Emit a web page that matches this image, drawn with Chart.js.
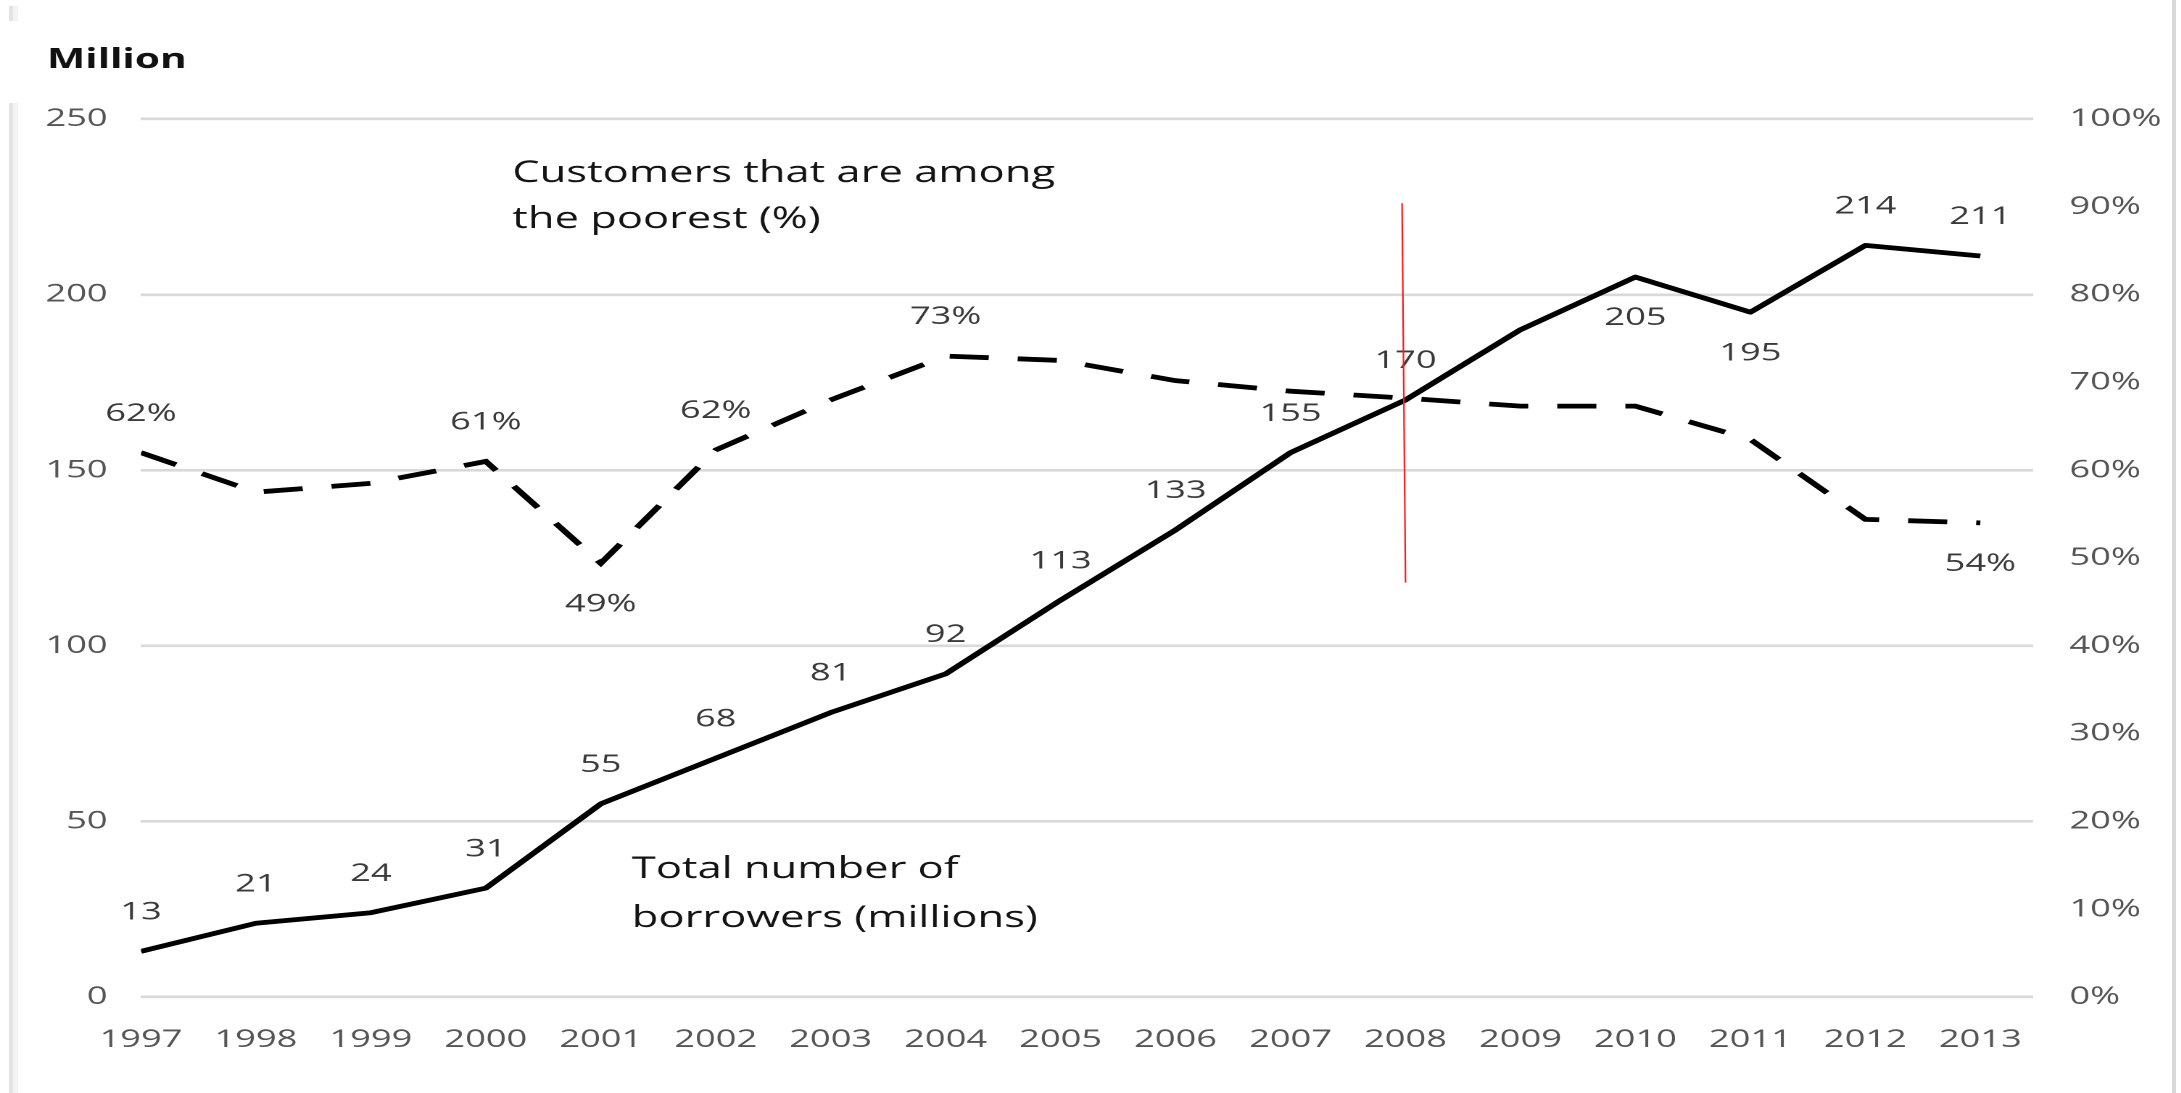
<!DOCTYPE html>
<html>
<head>
<meta charset="utf-8">
<script src="https://cdn.jsdelivr.net/npm/chart.js@4.4.1/dist/chart.umd.min.js"></script>
<style>
  html, body { margin: 0; padding: 0; background: #fff; overflow: hidden; }
  /* the reference is stretched sideways, so the chart is drawn narrow and widened */
  #wrap { position: absolute; left: 0; top: 0; width: 1504px; height: 1093px; transform: scaleX(1.4502); transform-origin: 0 0; }
  .frame { position: absolute; }
</style>
</head>
<body>
<div class="frame" style="left:9px;top:6px;width:4px;height:15px;background:#e3e3e3"></div>
<div class="frame" style="left:13px;top:6px;width:5px;height:15px;background:#f3f3f3"></div>
<div class="frame" style="left:9px;top:103px;width:4px;height:990px;background:#e3e3e3"></div>
<div class="frame" style="left:13px;top:103px;width:5px;height:990px;background:#f3f3f3"></div>
<div class="frame" style="left:2172px;top:0;width:4px;height:1093px;background:#d9d9d9"></div>
<div id="wrap"><canvas id="chart"></canvas></div>
<script>
// valores
const years = [1997, 1998, 1999, 2000, 2001, 2002, 2003, 2004, 2005, 2006, 2007, 2008, 2009, 2010, 2011, 2012, 2013];
const borrowers = [13, 21, 24, 31, 55, 68, 81, 92, 113, 133, 155, 170, 190, 205, 195, 214, 211];
const poorestPct = [62, 57.5, 58.5, 61, 49.4, 62.3, 68, 73, 72.5, 70.2, 69, 68.2, 67.3, 67.3, 63.5, 54.4, 54];
// onde aparece o rotulo de cada ponto (null = sem rotulo)
const borrowerLabelPos = ['above', 'above', 'above', 'above', 'above', 'above', 'above', 'above', 'above', 'above', 'above', 'above', null, 'below', 'below', 'above', 'above'];
const pctLabelPos = ['above', null, null, 'above', 'below', 'above', null, 'above', null, null, null, null, null, null, null, null, 'below'];
const leftTicks = [0, 50, 100, 150, 200, 250];
const rightTicks = [0, 10, 20, 30, 40, 50, 60, 70, 80, 90, 100];
const axisTitle = 'Million';
const seriesNotes = [
  { lines: ['Customers that are among', 'the poorest (%)'], year: 2000.23, values: [232.1, 219.0] },
  { lines: ['Total number of', 'borrowers (millions)'], year: 2001.27, values: [33.9, 19.9] },
];
const redMark = { yearTop: 2007.97, yearBottom: 2008, top: 226, bottom: 118 };

const FONT = '"Open Sans", "DejaVu Sans", sans-serif';

const annotations = {
  id: 'annotations',
  afterDatasetsDraw(chart) {
    const { ctx } = chart;
    const x = chart.scales.x;
    const y = chart.scales.y;
    ctx.save();

    // rotulos dos pontos
    ctx.font = '25px ' + FONT;
    ctx.fillStyle = '#3a3a3a';
    ctx.textAlign = 'center';
    ctx.textBaseline = 'middle';
    chart.data.datasets.forEach((ds, i) => {
      const meta = chart.getDatasetMeta(i);
      ds.labelPos.forEach((pos, j) => {
        if (!pos) return;
        const pt = meta.data[j];
        const dy = pos === 'above' ? -39 : 41;
        ctx.fillText(ds.fmt(ds.data[j].y), pt.x, pt.y + dy);
      });
    });

    // nomes das series
    ctx.font = '30px ' + FONT;
    ctx.fillStyle = '#141414';
    ctx.textAlign = 'left';
    ctx.textBaseline = 'alphabetic';
    seriesNotes.forEach((n) => {
      n.lines.forEach((line, k) => {
        ctx.fillText(line, x.getPixelForValue(n.year), y.getPixelForValue(n.values[k]));
      });
    });

    // traco vermelho em 2008
    ctx.strokeStyle = '#ff1a1a';
    ctx.lineWidth = 1.1;
    ctx.beginPath();
    ctx.moveTo(x.getPixelForValue(redMark.yearTop), y.getPixelForValue(redMark.top));
    ctx.lineTo(x.getPixelForValue(redMark.yearBottom), y.getPixelForValue(redMark.bottom));
    ctx.stroke();

    // titulo do eixo
    ctx.font = 'bold 28px ' + FONT;
    ctx.fillStyle = '#111';
    ctx.fillText(axisTitle, 32.4, 68);
    ctx.restore();
  },
};

new Chart(document.getElementById('chart'), {
  type: 'line',
  data: {
    datasets: [
      {
        label: 'Total number of borrowers (millions)',
        data: years.map((yr, i) => ({ x: yr, y: borrowers[i] })),
        yAxisID: 'y',
        borderColor: '#000',
        borderWidth: 4.8,
        borderJoinStyle: 'round',
        pointRadius: 0,
        tension: 0,
        labelPos: borrowerLabelPos,
        fmt: (v) => String(Math.round(v)),
      },
      {
        label: 'Customers that are among the poorest (%)',
        data: years.map((yr, i) => ({ x: yr, y: poorestPct[i] })),
        yAxisID: 'y1',
        borderColor: '#000',
        borderWidth: 4.8,
        borderDash: [27, 20],
        borderCapStyle: 'butt',
        pointRadius: 0,
        tension: 0,
        labelPos: pctLabelPos,
        fmt: (v) => Math.round(v) + '%',
      },
    ],
  },
  options: {
    responsive: true,
    maintainAspectRatio: false,
    animation: false,
    devicePixelRatio: 2,
    layout: { padding: { top: 119, bottom: 36, left: 0, right: 0 } },
    plugins: { legend: { display: false }, tooltip: { enabled: false } },
    scales: {
      x: {
        type: 'linear',
        min: years[0],
        max: years[years.length - 1] + 0.46,
        afterFit: (s) => { s.height = 60; },
        grid: { display: false },
        border: { display: false },
        ticks: {
          stepSize: 1,
          includeBounds: false,
          autoSkip: false,
          maxRotation: 0,
          padding: 20,
          color: '#555',
          font: { family: FONT, size: 25 },
          callback: (v) => String(v),
        },
      },
      y: {
        position: 'left',
        min: leftTicks[0],
        max: leftTicks[leftTicks.length - 1],
        afterFit: (s) => { s.width = 97.2; },
        afterBuildTicks: (s) => { s.ticks = leftTicks.map((v) => ({ value: v })); },
        grid: { color: '#d9d9d9', lineWidth: 2.6, drawTicks: false },
        border: { display: false },
        ticks: { padding: 23, color: '#555', font: { family: FONT, size: 25 } },
      },
      y1: {
        position: 'right',
        min: rightTicks[0],
        max: rightTicks[rightTicks.length - 1],
        afterFit: (s) => { s.width = 102; },
        afterBuildTicks: (s) => { s.ticks = rightTicks.map((v) => ({ value: v })); },
        grid: { display: false, drawTicks: false },
        border: { display: false },
        ticks: { padding: 25, color: '#555', font: { family: FONT, size: 25 }, callback: (v) => v + '%' },
      },
    },
  },
  plugins: [annotations],
});
</script>
</body>
</html>
